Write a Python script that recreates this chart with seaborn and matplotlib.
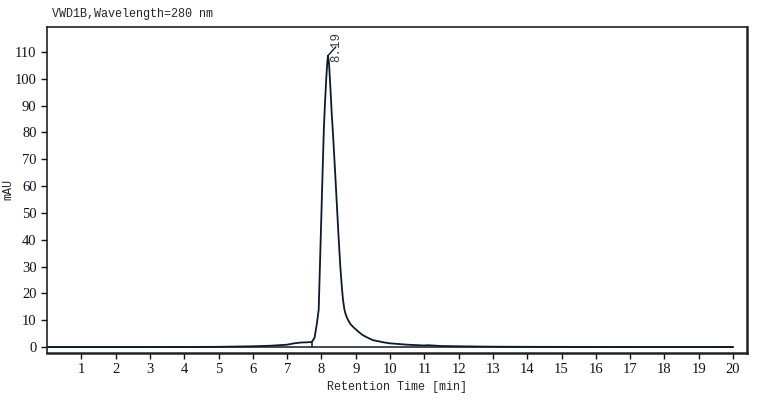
import numpy as np
import pandas as pd
import seaborn as sns
import matplotlib
matplotlib.use('Agg')
import matplotlib.pyplot as plt

tiempo = [0, 1, 2, 3, 4, 5, 5.5, 6, 6.5, 7.0, 7.2, 7.4, 7.6, 7.72,
          7.8, 7.87, 7.92, 7.96, 8.0, 8.04, 8.07, 8.10, 8.14, 8.17, 8.19,
          8.22, 8.26, 8.30, 8.33, 8.40, 8.45, 8.50, 8.55, 8.60, 8.63,
          8.67, 8.70, 8.74, 8.78, 8.85, 8.95, 9.03, 9.1, 9.2, 9.3, 9.5,
          9.8, 10.0, 10.5, 11.0, 11.1, 11.5, 12.0, 13, 14, 15, 16, 17,
          18, 19, 20]
senal = [0, 0, 0, 0, 0.05, 0.1, 0.2, 0.3, 0.5, 0.9, 1.4, 1.7, 1.8, 1.9,
         3.5, 9, 14, 32, 50, 68, 81, 90, 100, 106, 108.6,
         106, 97, 87, 81, 65, 53, 41, 30, 21.5, 17.5,
         14, 12.5, 11.1, 10, 8.5, 7.2, 6.3, 5.5, 4.5, 3.8, 2.6,
         1.8, 1.4, 0.9, 0.6, 0.7, 0.4, 0.3, 0.15, 0.1, 0.08, 0.05, 0.03,
         0.02, 0.01, 0.0]

linea_base_t = [0, 20]
linea_base = [0, 0]

pico_t = 8.19
pico_h = 108.6
pico_etiqueta = "8.19"
corte_t = 7.72
corte_h = 1.9

x_ticks = list(range(1, 21))
y_ticks = list(range(0, 111, 10))

df = pd.DataFrame({'t': tiempo, 'mAU': senal})

sns.set_style("ticks")
plt.rcParams['font.family'] = ['Liberation Serif', 'DejaVu Serif']

color_linea = '#0d1a2b'
fig = plt.figure(figsize=(7.82, 4.0), dpi=100)
ax = fig.add_axes([0.0601, 0.1175, 0.8949, 0.815])

sns.lineplot(x='t', y='mAU', data=df, sort=False, color=color_linea,
             linewidth=1.3, ax=ax)
ax.plot(linea_base_t, linea_base, color=color_linea, linewidth=1.1)
ax.vlines(corte_t, 0, corte_h, color=color_linea, linewidth=1.1)

ax.annotate(pico_etiqueta, xy=(pico_t, pico_h), xytext=(8.42, 106.3),
            textcoords='data', rotation=90, ha='center', va='bottom',
            fontsize=9, color='#3a3a4a', family='Liberation Mono',
            arrowprops=dict(arrowstyle='-', color=color_linea, lw=1.0,
                            shrinkA=0, shrinkB=0))

ax.set_xlim(0, 20.4)
ax.set_ylim(-2.2, 119.3)
ax.set_xticks(x_ticks)
ax.set_yticks(y_ticks)
ax.tick_params(axis='both', direction='out', length=4, width=1,
               labelsize=10.5, colors='#111122')

for s in ax.spines.values():
    s.set_visible(True)
    s.set_color('#222222')
    s.set_linewidth(1.2)
ax.spines['right'].set_linewidth(1.8)
ax.spines['bottom'].set_linewidth(1.8)

ax.set_xlabel("Retention Time [min]", family='Liberation Mono', fontsize=8.5,
              labelpad=3)
ax.set_ylabel("")
fig.text(0.011, 0.525, "mAU", family='Liberation Mono', fontsize=8.5,
         rotation=90, ha='center', va='center')
fig.text(0.066, 0.965, "VWD1B,Wavelength=280 nm", family='Liberation Mono',
         fontsize=8.5, ha='left', va='center')

fig.savefig('out.png', dpi=100)
